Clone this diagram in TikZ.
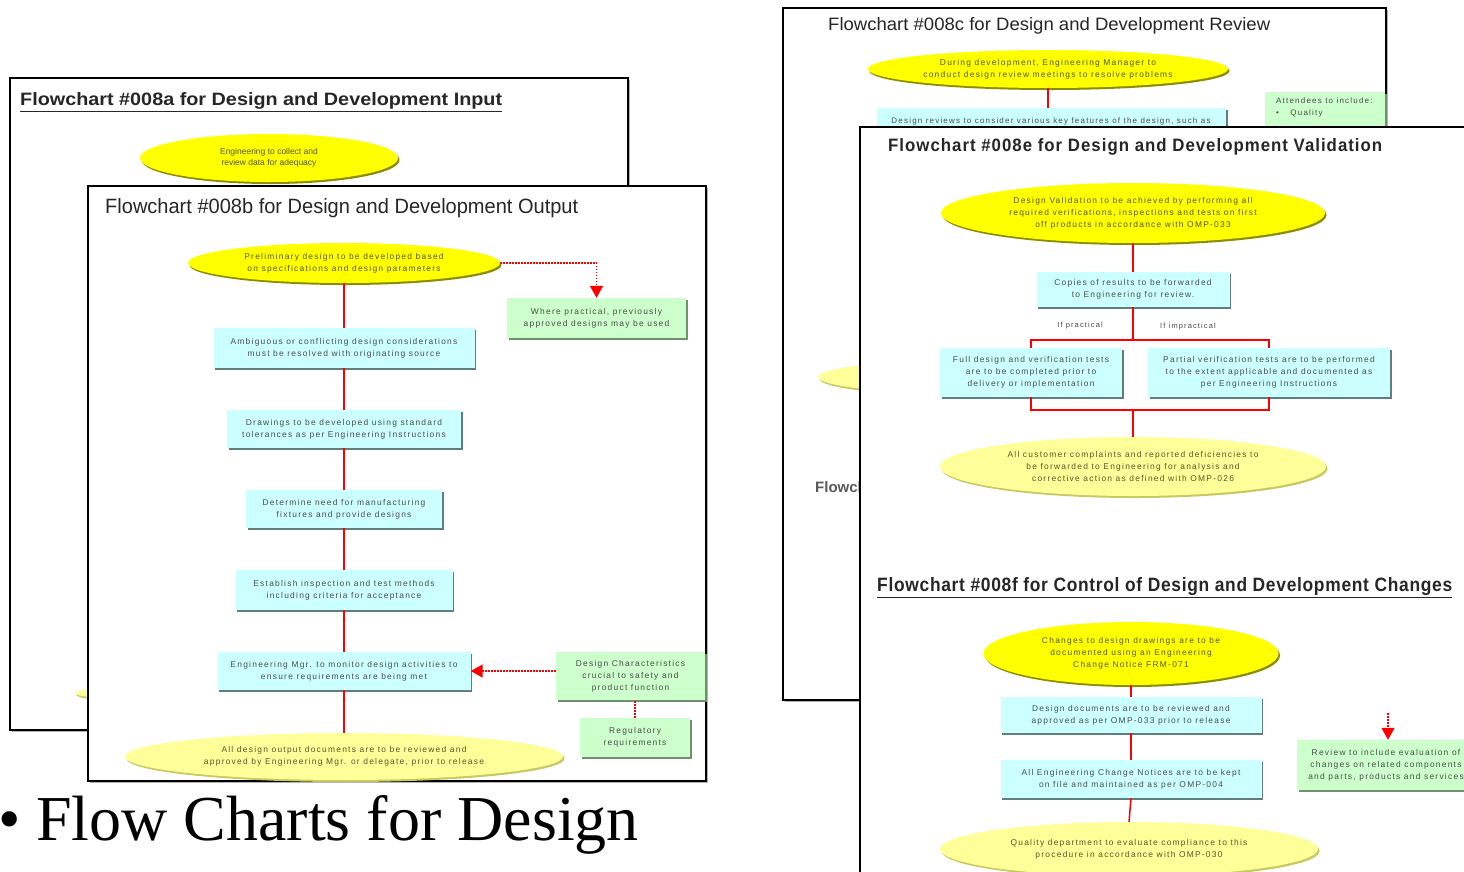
\documentclass[tikz,border=0pt]{standalone}
\usepackage{fontspec}
\usepackage{graphicx}
\setmainfont{Liberation Sans}
\newfontfamily\seriffont{Liberation Serif}
\newfontfamily\boxfont[LetterSpace=15]{Liberation Sans}
\usetikzlibrary{shapes.geometric,shadows,arrows.meta,calc}
\definecolor{yel}{HTML}{FFFF00}
\definecolor{lyel}{HTML}{FFFF99}
\definecolor{cy}{HTML}{CCFFFF}
\definecolor{gr}{HTML}{CCFFCC}
\definecolor{ysh}{HTML}{8C8C00}
\definecolor{lysh}{HTML}{C8C860}
\definecolor{boxsh}{HTML}{5F7F7F}
\definecolor{grsh}{HTML}{6F8F6F}
\definecolor{txt}{HTML}{4A4A4A}
\definecolor{ytxt}{HTML}{55552A}
\newcommand{\fitt}[3]{\resizebox{#1pt}{#2pt}{#3}}
\tikzset{
  page/.style={draw=black, line width=1.6pt, fill=white,
    drop shadow={shadow xshift=1.6pt, shadow yshift=-1.6pt, fill=gray!60, opacity=1}},
  sz/.style 2 args={minimum width=#1pt, minimum height=#2pt},
  base/.style={inner sep=0pt, align=center, font=\boxfont\fontsize{8.4}{12}\selectfont, text=txt},
  yell/.style={base, ellipse, fill=yel, text=ytxt,
    drop shadow={shadow xshift=1.5pt, shadow yshift=-2pt, fill=ysh, opacity=1}},
  lyell/.style={base, ellipse, fill=lyel, text=ytxt,
    drop shadow={shadow xshift=1.5pt, shadow yshift=-2pt, fill=lysh, opacity=1}},
  cbox/.style={base, rectangle, fill=cy,
    drop shadow={shadow xshift=1.5pt, shadow yshift=-1.5pt, fill=boxsh, opacity=1}},
  gbox/.style={base, rectangle, fill=gr,
    drop shadow={shadow xshift=1.5pt, shadow yshift=-1.5pt, fill=grsh, opacity=1}},
  flow/.style={draw=red, line width=1.5pt},
  dotflow/.style={draw=red, line width=1.5pt, dash pattern=on 1.5pt off 1.5pt},
  dotarrow/.style={dotflow, -{Triangle[width=13pt,length=12pt,fill=red]}},
  ttl/.style={anchor=base west, inner sep=0pt, text=black!85},
  lbl/.style={inner sep=0pt, font=\boxfont\fontsize{7.5}{9}\selectfont, text=txt},
}
\begin{document}
\begin{tikzpicture}[x=1pt, y=-1pt]
\useasboundingbox (0,0) rectangle (1464,871);

% ---------------- Page 008a (back, left)
\path[page] (10,78) rectangle (628,730);
\node[ttl] (tA) at (20,105) {\fitt{482}{13}{\bfseries\underline{Flowchart \#008a for Design and Development Input}}};
\node[yell, sz={258}{48}, font=\fontsize{8.5}{11}\selectfont] (eA) at (269,158) {Engineering to collect and\\review data for adequacy};
\node[lyell, sz={440}{23}] (eApeek) at (295,693) {};

% ---------------- Page 008b (front, left)
\path[page] (88,186) rectangle (706,781);
\node[ttl] (tB) at (105,213) {\fitt{473}{15}{Flowchart \#008b for Design and Development Output}};
\node[yell, sz={312}{40}] (b1) at (344,263) {Preliminary design to be developed based\\on specifications and design parameters};
\node[gbox, sz={179}{40}] (bg1) at (596.5,318) {Where practical, previously\\approved designs may be used};
\node[cbox, sz={261}{40}] (b2) at (344,348) {Ambiguous or conflicting design considerations\\must be resolved with originating source};
\node[cbox, sz={234}{38}] (b3) at (344,429) {Drawings to be developed using standard\\tolerances as per Engineering Instructions};
\node[cbox, sz={196}{38}] (b4) at (344,509) {Determine need for manufacturing\\fixtures and provide designs};
\node[cbox, sz={217}{40}] (b5) at (344,590) {Establish inspection and test methods\\including criteria for acceptance};
\node[cbox, sz={253}{38}] (b6) at (344,671) {Engineering Mgr. to monitor design activities to\\ensure requirements are being met};
\node[gbox, sz={149}{48}] (bg2) at (630.5,676) {Design Characteristics\\crucial to safety and\\product function};
\node[gbox, sz={110}{39}] (bg3) at (635,737.5) {Regulatory\\requirements};
\node[lyell, sz={438}{47}] (b7) at (344,756.5) {All design output documents are to be reviewed and\\approved by Engineering Mgr. or delegate, prior to release};
\draw[flow] (b1.south) -- (b2.north);
\draw[flow] (b2.south) -- (b3.north);
\draw[flow] (b3.south) -- (b4.north);
\draw[flow] (b4.south) -- (b5.north);
\draw[flow] (b5.south) -- (b6.north);
\draw[flow] (b6.south) -- (b7.north);
\draw[dotarrow] (b1.east) -- (bg1.north |- b1.east) -- (bg1.north);
\draw[dotarrow] (bg2.west |- b6.east) -- (b6.east);
\draw[dotflow] (bg3.north) -- (bg3.north |- bg2.south);

% ---------------- Page 008c (back, right)
\path[page] (783,8) rectangle (1386,700);
\node[ttl] (tC) at (828,30) {\fitt{442}{13}{Flowchart \#008c for Design and Development Review}};
\node[yell, sz={360}{38}] (c1) at (1048,69) {During development, Engineering Manager to\\conduct design review meetings to resolve problems};
\node[cbox, sz={349}{42}] (c2) at (1051.5,129) {};
\node[lbl, font=\boxfont\fontsize{8}{10}\selectfont] (c2t) at (1051,121) {Design reviews to consider various key features of the design, such as};
\node[gbox, sz={120}{58}] (cg) at (1325,121) {};
\node[lbl, anchor=north west, align=left, font=\boxfont\fontsize{8}{12}\selectfont] (cgt) at (1276,97) {Attendees to include:\\\textbullet\quad\ Quality};
\draw[flow] (c1.south) -- (c2.north -| c1.south);
\node[lyell, sz={400}{38}] (cpeek) at (1018,377) {};
\node[ttl, font=\bfseries\fontsize{15}{18}\selectfont, text=black!65] (tD) at (815,492) {Flowchart};

% ---------------- Page 008e / 008f (front, right)
\path[page] (860,127) rectangle (1490,900);
\node[ttl] (tE) at (888,151) {\fitt{494}{13}{\bfseries\addfontfeature{LetterSpace=6}Flowchart \#008e for Design and Development Validation}};
\node[yell, sz={384}{60}] (e1) at (1133,213) {Design Validation to be achieved by performing all\\required verifications, inspections and tests on first\\off products in accordance with OMP-033};
\node[cbox, sz={193}{35}] (e2) at (1133,289.5) {Copies of results to be forwarded\\to Engineering for review.};
\node[cbox, sz={182}{49}] (e3) at (1031,372.5) {Full design and verification tests\\are to be completed prior to\\delivery or implementation};
\node[cbox, sz={242}{49}] (e4) at (1269,372.5) {Partial verification tests are to be performed\\to the extent applicable and documented as\\per Engineering Instructions};
\node[lyell, sz={386}{59}] (e5) at (1133,466.5) {All customer complaints and reported deficiencies to\\be forwarded to Engineering for analysis and\\corrective action as defined with OMP-026};
\coordinate (ebr1) at (1133,340);
\coordinate (ebr2) at (1133,410);
\node[lbl] (ep) at (1080,326) {If practical};
\node[lbl] (ei) at (1188,327) {If impractical};
\draw[flow] (e1.south) -- (e2.north);
\draw[flow] (e2.south) -- (ebr1);
\draw[flow] (e3.north) -- (e3.north |- ebr1) -- (e4.north |- ebr1) -- (e4.north);
\draw[flow] (e3.south) -- (e3.south |- ebr2) -- (e4.south |- ebr2) -- (e4.south);
\draw[flow] (ebr2) -- (e5.north);

\node[ttl] (tF) at (877,591) {\fitt{575}{14}{\bfseries\addfontfeature{LetterSpace=4}\underline{Flowchart \#008f for Control of Design and Development Changes}}};
\node[yell, sz={295}{63}] (f1) at (1131,653.5) {Changes to design drawings are to be\\documented using an Engineering\\Change Notice FRM-071};
\node[cbox, sz={261}{36}] (f2) at (1131,715) {Design documents are to be reviewed and\\approved as per OMP-033 prior to release};
\node[cbox, sz={261}{38}] (f3) at (1131,779) {All Engineering Change Notices are to be kept\\on file and maintained as per OMP-004};
\node[lyell, sz={378}{54}] (f4) at (1129,849) {Quality department to evaluate compliance to this\\procedure in accordance with OMP-030};
\node[gbox, sz={178}{50}] (fg) at (1386,765) {Review to include evaluation of\\changes on related components\\and parts, products and services};
\coordinate (fs) at (1388,713);
\draw[flow] (f1.south) -- (f2.north);
\draw[flow] (f2.south) -- (f3.north);
\draw[flow] (f3.south) -- (f4.north);
\draw[dotarrow] (fs) -- (fs |- fg.north);

% ---------------- Bullet text
\node[anchor=base west, inner sep=0pt, font=\seriffont\fontsize{64}{70}\selectfont] (bul) at (-2,840) {\textbullet};
\node[anchor=base west, inner sep=0pt, font=\seriffont\fontsize{64}{70}\selectfont] (bt1) at (36,840) {Flow Charts for Design};
\node[anchor=base west, inner sep=0pt, font=\seriffont\fontsize{64}{70}\selectfont] (bt2) at (36,918) {and Development};
\end{tikzpicture}
\end{document}
